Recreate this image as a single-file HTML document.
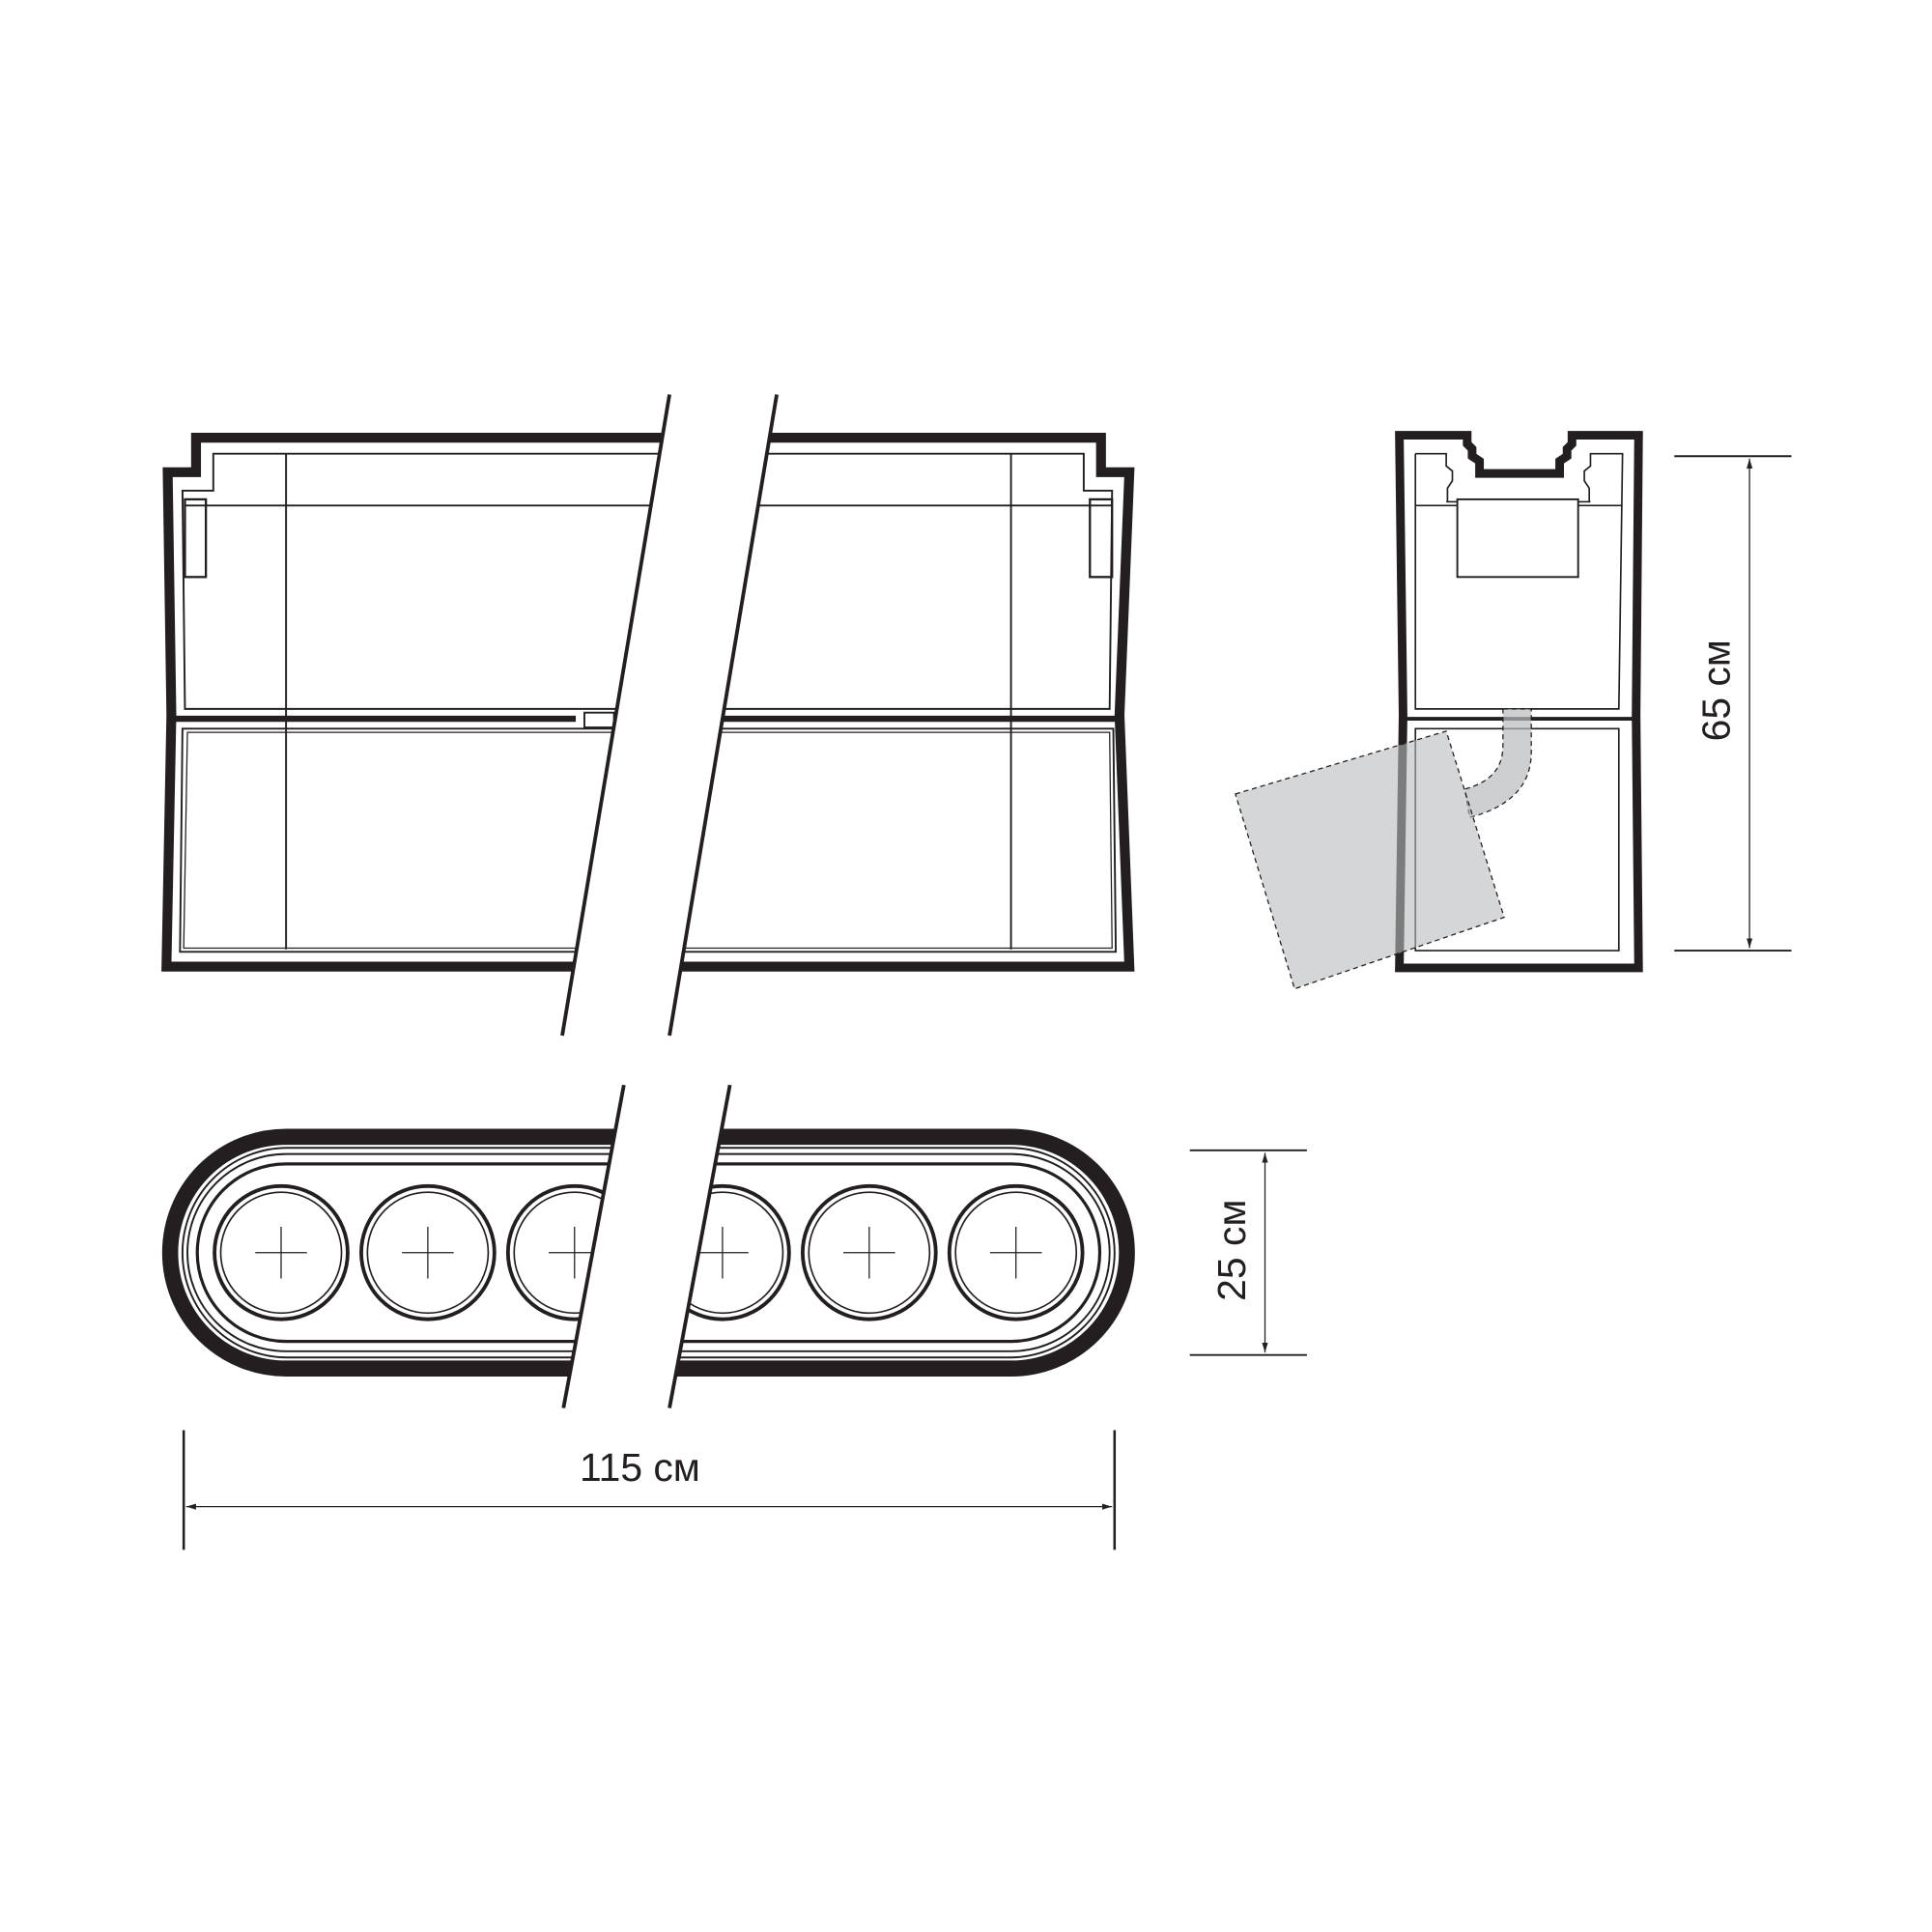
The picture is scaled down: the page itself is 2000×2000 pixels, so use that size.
<!DOCTYPE html>
<html><head><style>html,body{margin:0;padding:0;background:#fff}svg{display:block}</style></head><body>
<svg width="2000" height="2000" viewBox="0 0 1567 1567" xmlns="http://www.w3.org/2000/svg">
<defs><marker id="ar" viewBox="0 0 10 10" refX="10" refY="5" markerWidth="8" markerHeight="8" orient="auto-start-reverse"><path d="M0,2 L10,5 L0,8z" fill="#222"/></marker></defs>
<g fill="none" stroke="#231f20">
<!-- front view -->
<path d="M159,355 L893,355 L893,383 L916,383 L908,580 L916,784 L135,784 L139,580 L136,383 L159,383 Z" stroke-width="8" fill="#fff"/>
<path d="M173,368 L879,368 L879,398 L902,398 L900,575 L150,575 L148,398 L173,398 Z" stroke-width="1.5"/>
<line x1="150" y1="410" x2="902" y2="410" stroke-width="1.5"/>
<line x1="232" y1="368" x2="232" y2="770" stroke-width="1.5"/>
<line x1="820" y1="368" x2="820" y2="770" stroke-width="1.5"/>
<rect x="150" y="405" width="17" height="63" stroke-width="1.8"/>
<rect x="884" y="405" width="18" height="63" stroke-width="1.8"/>
<line x1="142" y1="583" x2="467" y2="583" stroke-width="5"/>
<line x1="585" y1="583" x2="910" y2="583" stroke-width="5"/>
<rect x="474" y="578" width="24" height="12" stroke-width="1.5"/>
<path d="M148,591 L903,591 L905,772 L146,772 Z" stroke-width="1.5"/>
<path d="M152,594 L900,594 L902,769 L149,769 Z" stroke-width="1"/>
<!-- break top -->
<path d="M543,320 L630,320 L543,840 L456,840 Z" fill="#fff" stroke="none"/>
<line x1="543" y1="320" x2="456" y2="840" stroke-width="3"/>
<line x1="630" y1="320" x2="543" y2="840" stroke-width="3"/>
<!-- bottom view -->
<rect x="138" y="922" width="776" height="188" rx="94" stroke-width="13" fill="#fff"/>
<rect x="148" y="931" width="756" height="170" rx="85" stroke-width="1.5"/>
<rect x="152" y="936" width="748" height="160" rx="80" stroke-width="1.5"/>
<rect x="160" y="944" width="732" height="144" rx="72" stroke-width="2.5"/>
<g stroke-width="3"><circle cx="228" cy="1016" r="54"/><circle cx="347" cy="1016" r="54"/><circle cx="466" cy="1016" r="54"/><circle cx="586" cy="1016" r="54"/><circle cx="705" cy="1016" r="54"/><circle cx="824" cy="1016" r="54"/></g>
<g stroke-width="1.3"><circle cx="228" cy="1016" r="49"/><circle cx="347" cy="1016" r="49"/><circle cx="466" cy="1016" r="49"/><circle cx="586" cy="1016" r="49"/><circle cx="705" cy="1016" r="49"/><circle cx="824" cy="1016" r="49"/></g>
<g stroke-width="1"><path d="M207,1016h42M228,995v42M326,1016h42M347,995v42M445,1016h42M466,995v42M565,1016h42M586,995v42M684,1016h42M705,995v42M803,1016h42M824,995v42"/></g>
<path d="M506,880 L592,880 L543,1142 L457,1142 Z" fill="#fff" stroke="none"/>
<line x1="506" y1="880" x2="457" y2="1142" stroke-width="3"/>
<line x1="592" y1="880" x2="543" y2="1142" stroke-width="3"/>
<!-- side view -->
<path d="M1135,353 L1190,353 L1190,360 L1194,364 L1194,370 L1200,374 L1200,384 L1265,384 L1265,374 L1271,370 L1271,364 L1275,360 L1275,353 L1329,353 L1327,580 L1329,785 L1135,785 L1138,580 Z" stroke-width="7" fill="#fff"/>
<path d="M1148,368 L1173,368 L1173,378 L1178,382 L1178,390 L1174,396 L1174,407 M1148,368 L1148,575 L1313,575 L1316,368 L1290,368 L1290,378 L1285,382 L1285,390 L1289,396 L1289,407 M1173,407 L1290,407" stroke-width="1.3"/>
<line x1="1148" y1="410" x2="1316" y2="410" stroke-width="1.3"/>
<rect x="1182" y="405" width="98" height="63" stroke-width="1.5" fill="#fff"/>
<line x1="1141" y1="583" x2="1324" y2="583" stroke-width="3"/>
<path d="M1148,591 L1313,591 L1313,771 L1148,771 Z" stroke-width="1.3"/>
<path d="M1219,575 L1242,575 L1242,610 Q1242,650 1192,663 L1188,640 Q1219,632 1219,605 Z" fill="#b8babd" fill-opacity="0.7" stroke-dasharray="4 3" stroke-width="1"/>
<path d="M1002,644 L1173,593 L1220,744 L1050,802 Z" fill="#b8babd" fill-opacity="0.6" stroke-dasharray="4 3" stroke-width="1"/>
<!-- dims -->
<g stroke-width="1.5">
<line x1="1358" y1="370" x2="1453" y2="370"/><line x1="1358" y1="771" x2="1453" y2="771"/>
<line x1="1419" y1="372" x2="1419" y2="769" marker-start="url(#ar)" marker-end="url(#ar)" stroke-width="1"/>
<line x1="965" y1="933" x2="1060" y2="933"/><line x1="965" y1="1099" x2="1060" y2="1099"/>
<line x1="1026" y1="935" x2="1026" y2="1097" marker-start="url(#ar)" marker-end="url(#ar)" stroke-width="1"/>
<line x1="149" y1="1160" x2="149" y2="1257" stroke-width="2"/><line x1="904" y1="1160" x2="904" y2="1257" stroke-width="2"/>
<line x1="151" y1="1222" x2="902" y2="1222" marker-start="url(#ar)" marker-end="url(#ar)" stroke-width="1"/>
</g>
</g>
<g font-family="Liberation Sans, sans-serif" font-size="32" fill="#231f20" text-anchor="middle">
<text x="519" y="1201">115 см</text>
<text transform="translate(1403,560) rotate(-90)">65 см</text>
<text transform="translate(1010,1014) rotate(-90)">25 см</text>
</g>
</svg>
</body></html>
